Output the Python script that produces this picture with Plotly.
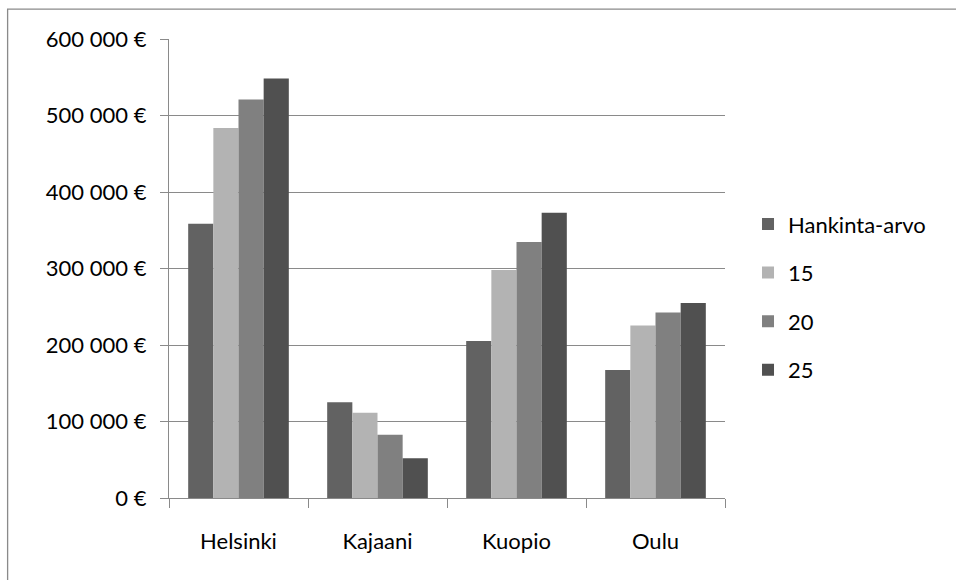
import plotly.graph_objects as go

# Cities on the category axis
cities = ["Helsinki", "Kajaani", "Kuopio", "Oulu"]

# Series values (euros)
hankinta_arvo = [358500, 125000, 205200, 167300]
v15 = [483700, 111500, 298000, 225600]
v20 = [521000, 82700, 334600, 242600]
v25 = [548500, 51800, 373000, 254900]

series_names = ["Hankinta-arvo", "15", "20", "25"]
series_values = [hankinta_arvo, v15, v20, v25]
series_colors = ["#626262", "#b3b3b3", "#808080", "#505050"]

# Y axis ticks
y_ticks = [0, 100000, 200000, 300000, 400000, 500000, 600000]
y_tick_text = [f"{v:,}".replace(",", " ") + " €" for v in y_ticks]

FONT = "Lato"
FSIZE = 22
GRID = "#8a8a8a"

fig = go.Figure()
for name, vals, col in zip(series_names, series_values, series_colors):
    fig.add_trace(go.Bar(
        x=cities, y=vals, name=name, legendgroup=name,
        marker=dict(color=col, line=dict(width=0)),
    ))

W, H = 956, 580
left, right, top, bottom = 169.3, 725, 39.3, 498.3
pw, ph = right - left, bottom - top

fig.update_layout(
    width=W, height=H,
    margin=dict(l=left, r=W - right, t=top, b=H - bottom, pad=0),
    paper_bgcolor="white", plot_bgcolor="white",
    barmode="group", bargap=0.276, bargroupgap=0,
    font=dict(family=FONT, size=FSIZE, color="#000000"),
    showlegend=True,
    legend=dict(
        x=(748 - left) / pw, xanchor="left",
        y=(bottom - 297.5) / ph, yanchor="middle",
        traceorder="grouped", tracegroupgap=17,
        font=dict(family=FONT, size=FSIZE, color="#000000"),
        bgcolor="rgba(0,0,0,0)", borderwidth=0,
    ),
    xaxis=dict(
        showgrid=False, showline=True, linecolor=GRID, linewidth=1.3,
        ticks="outside", tickson="boundaries", ticklen=9, tickcolor=GRID,
        tickwidth=1.3, ticklabelstandoff=23,
    ),
    yaxis=dict(
        range=[0, 600000], tickvals=y_ticks, ticktext=y_tick_text,
        showgrid=True, gridcolor=GRID, gridwidth=1.3,
        showline=True, linecolor=GRID, linewidth=1.3,
        ticks="outside", ticklen=8, tickcolor=GRID, tickwidth=1.3,
        ticklabelstandoff=9, zeroline=False,
    ),
    shapes=[dict(
        type="rect", xref="paper", yref="paper",
        x0=(8 - left) / pw, x1=(1000 - left) / pw,
        y0=(bottom - 620) / ph, y1=(bottom - 9.5) / ph,
        line=dict(color=GRID, width=1.3), fillcolor="rgba(0,0,0,0)",
        layer="below",
    )],
)

fig.write_html("out.html")
